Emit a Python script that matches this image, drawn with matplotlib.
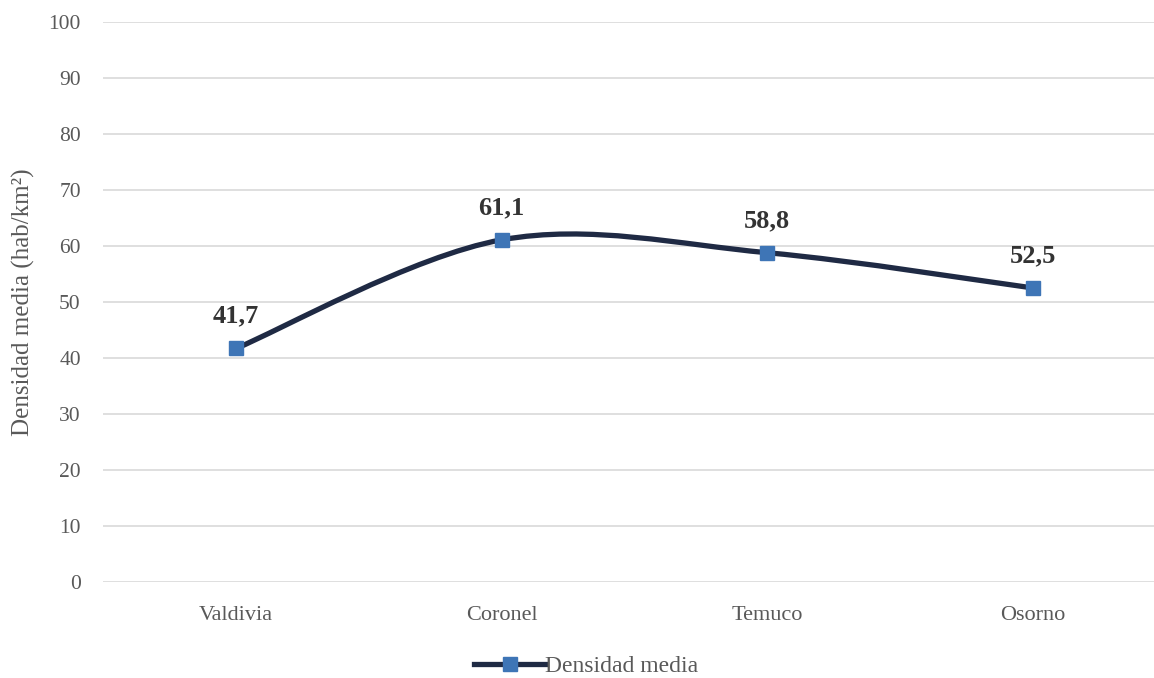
import matplotlib
matplotlib.use("Agg")
import matplotlib.pyplot as plt
from matplotlib.path import Path
from matplotlib.patches import PathPatch
from matplotlib.lines import Line2D
import numpy as np

ciudades = ["Valdivia", "Coronel", "Temuco", "Osorno"]
densidad = [41.7, 61.1, 58.8, 52.5]
etiquetas = ["41,7", "61,1", "58,8", "52,5"]

plt.rcParams['font.family'] = ['Liberation Serif', 'DejaVu Serif']

color_linea = '#1f2a44'
color_marca = '#3e75b6'
color_texto = '#595959'

fig = plt.figure(figsize=(11.54, 6.78), dpi=100)
ax = fig.add_axes([103/1154, 1 - 582/678, 1 - 103/1154, (582 - 22)/678])

x = np.arange(len(ciudades), dtype=float)
y = np.array(densidad)

# curva suavizada (bezier tipo catmull-rom, como el suavizado de excel)
verts = [(x[0], y[0])]
codes = [Path.MOVETO]
n = len(x)
for i in range(n - 1):
    p0 = np.array([x[max(i - 1, 0)], y[max(i - 1, 0)]])
    p1 = np.array([x[i], y[i]])
    p2 = np.array([x[i + 1], y[i + 1]])
    p3 = np.array([x[min(i + 2, n - 1)], y[min(i + 2, n - 1)]])
    c1 = p1 + (p2 - p0) / 6
    c2 = p2 - (p3 - p1) / 6
    verts += [tuple(c1), tuple(c2), tuple(p2)]
    codes += [Path.CURVE4] * 3
ax.add_patch(PathPatch(Path(verts, codes), facecolor='none', edgecolor=color_linea,
                       lw=3.8, capstyle='round', zorder=3))
ax.plot(x, y, ls='none', marker='s', ms=10.5, color=color_marca, zorder=4)

for xi, yi, t in zip(x, y, etiquetas):
    ax.annotate(t, (xi, yi), xytext=(0, 15), textcoords='offset points',
                ha='center', va='bottom', fontsize=19, fontweight='bold', color='#333333')

ax.set_xlim(-0.5, 3.455)
ax.set_ylim(0, 100)
ax.set_yticks(range(0, 101, 10))
ax.set_xticks(x)
ax.set_xticklabels(ciudades)
ax.grid(axis='y', color='#d9d9d9', lw=1.2)
ax.set_axisbelow(True)
for s in ax.spines.values():
    s.set_visible(False)
ax.tick_params(axis='y', length=0, labelsize=15.5, colors=color_texto, pad=16)
ax.tick_params(axis='x', length=0, labelsize=16, colors=color_texto, pad=17)
ax.set_ylabel('Densidad media (hab/km²)', fontsize=18, color=color_texto, labelpad=10)

h = Line2D([], [], color=color_linea, lw=3.8, marker='s', ms=10.5,
           markerfacecolor=color_marca, markeredgecolor=color_marca)
fig.legend([h], ['Densidad media'], loc='lower center', bbox_to_anchor=(0.508, -0.03),
           frameon=False, fontsize=17, labelcolor=color_texto, handlelength=3.0,
           handletextpad=0.0)

fig.savefig('out.png', dpi=100)
